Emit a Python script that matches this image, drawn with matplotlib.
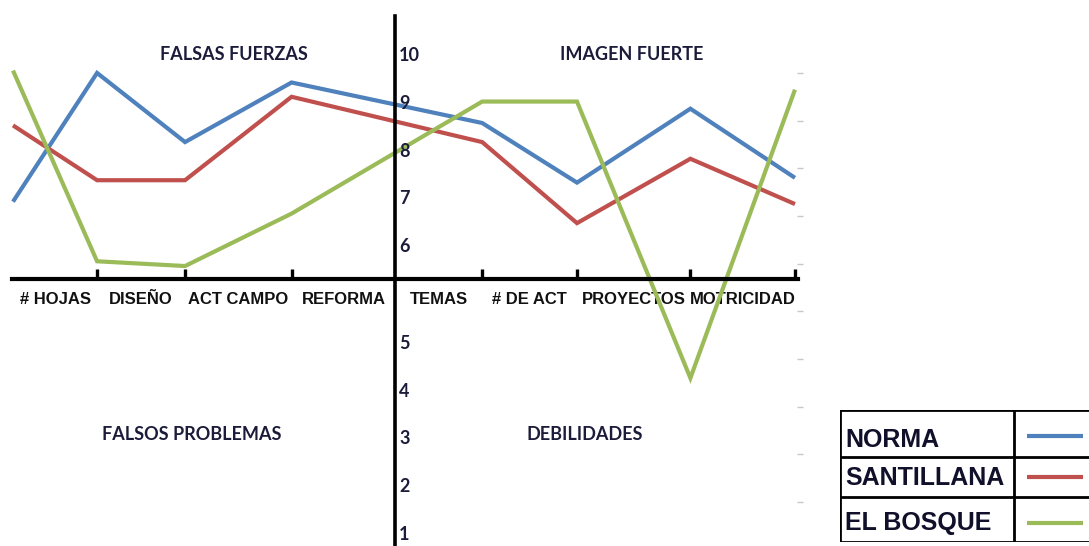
import numpy as np
import matplotlib
matplotlib.use("Agg")
import matplotlib.pyplot as plt
from matplotlib.lines import Line2D

# ---------------- data ----------------
categories = ["# HOJAS", "DISEÑO", "ACT CAMPO", "REFORMA",
              "TEMAS", "# DE ACT", "PROYECTOS", "MOTRICIDAD"]
x_vals = [0.0, 0.86, 1.76, 2.85, 4.80, 5.77, 6.93, 8.0]
norma = [7.3, 10.0, 8.55, 9.8, 8.95, 7.7, 9.25, 7.8]
santillana = [8.9, 7.75, 7.75, 9.5, 8.55, 6.85, 8.2, 7.25]
el_bosque = [10.05, 6.05, 5.95, 7.05, 9.4, 9.4, 3.6, 9.65]
series_names = ["NORMA", "SANTILLANA", "EL BOSQUE"]
series_colors = ["#4F81BD", "#C0504D", "#9BBB59"]
y_ticks = [1, 2, 3, 4, 5, 6, 7, 8, 9, 10]
quadrants = ["FALSAS FUERZAS", "IMAGEN FUERTE", "FALSOS PROBLEMAS", "DEBILIDADES"]
x_cross = 3.91
y_cross = 5.68

TITLE_FONT = ["Lato", "DejaVu Sans"]
BOLD_FONT = ["Liberation Sans", "DejaVu Sans"]

# ---------------- figure ----------------
W, H = 1089, 546
fig = plt.figure(figsize=(W / 100, H / 100), dpi=100)
ax = fig.add_axes([0, 0, 1, 1])
ax.set_xlim(-0.133, 11.008)
ax.set_ylim(0.078, 11.53)
ax.patch.set_visible(False)

for vals, col in zip([norma, santillana, el_bosque], series_colors):
    ax.plot(x_vals, vals, color=col, lw=3.0, solid_joinstyle="miter",
            solid_capstyle="butt", zorder=2)

# axes spines as quadrant cross
ax.spines["top"].set_visible(False)
ax.spines["left"].set_position(("data", x_cross))
ax.spines["left"].set_bounds(0.0, 11.2)
ax.spines["left"].set_linewidth(2.6)
ax.spines["left"].set_zorder(3)
ax.spines["bottom"].set_position(("data", y_cross))
ax.spines["bottom"].set_bounds(-0.01, 8.03)
ax.spines["bottom"].set_linewidth(3.0)
ax.spines["bottom"].set_zorder(3)
ax.spines["right"].set_position(("data", 8.02))
ax.spines["right"].set_color("none")

# x ticks: marks at data points (pointing up), labels centred between marks
ax.set_xticks(x_vals[1:])
ax.set_xticklabels([])
ax.tick_params(axis="x", which="major", direction="in", length=7, width=2.4,
               color="black")
edges = np.array(sorted(x_vals + [x_cross]))
mids = (edges[:-1] + edges[1:]) / 2
ax.set_xticks(mids, minor=True)
ax.set_xticklabels(categories, minor=True, fontsize=12, fontweight="bold",
                   family=BOLD_FONT, color="#111111")
ax.tick_params(axis="x", which="minor", length=0, pad=9.5)

# y ticks: faint marks on the right, numbers beside the vertical axis
ax.yaxis.set_ticks_position("right")
ax.set_yticks(y_ticks)
ax.set_yticklabels([])
ax.tick_params(axis="y", which="major", direction="out", length=4.5, width=1.0,
               color="#c8c8c8")
for v in y_ticks:
    dy = 17 if v > y_cross else -32
    ax.annotate(str(v), xy=(x_cross, v), xytext=(4, dy),
                textcoords="offset pixels", ha="left", va="center",
                fontsize=13, fontweight="bold", color="#1b1b3a",
                family=TITLE_FONT)

# quadrant titles
q_pos = [(234, 55), (632, 55), (192, 435), (585, 434)]
for txt, (px, py) in zip(quadrants, q_pos):
    fig.text(px / W, 1 - py / H, txt, ha="center", va="center",
             fontsize=13, fontweight="bold", color="#1b1b3a",
             family=TITLE_FONT)

# legend drawn as a bordered table
lx0, ly0, lw_, lh_ = 840, 410, 262, 132
lax = fig.add_axes([lx0 / W, 1 - (ly0 + lh_) / H, lw_ / W, lh_ / H])
lax.set_xlim(0, lw_)
lax.set_ylim(lh_, 0)
lax.axis("off")
row_edges = [0, 47, 87, 132]
col_div = 174
bk = dict(color="black", lw=2.0, solid_capstyle="projecting")
for yy in row_edges:
    lax.add_line(Line2D([0, lw_], [yy, yy], **bk))
lax.add_line(Line2D([0, 0], [0, lh_], **bk))
lax.add_line(Line2D([col_div, col_div], [0, lh_], **bk))
text_y = [30, 68, 113]
line_y = [26, 67, 113]
for name, col, ty, ly in zip(series_names, series_colors, text_y, line_y):
    lax.text(5, ty, name, ha="left", va="center", fontsize=18,
             fontweight="bold", color="#10102a", family=BOLD_FONT)
    lax.add_line(Line2D([187, 243], [ly, ly], color=col, lw=3.0,
                        solid_capstyle="butt"))

fig.savefig("out.png", dpi=100)
